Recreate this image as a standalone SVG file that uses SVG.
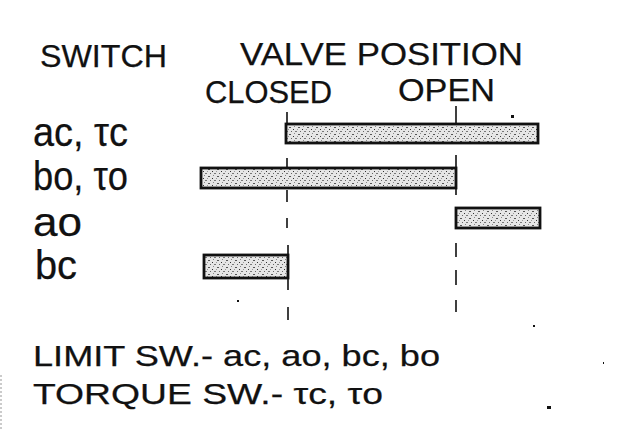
<svg xmlns="http://www.w3.org/2000/svg" width="639" height="431" viewBox="0 0 639 431">
<defs>
<pattern id="stip" width="9" height="7" patternUnits="userSpaceOnUse">
<rect width="9" height="7" fill="#e6e6e6"/>
<rect x="1" y="1" width="2" height="1" fill="#555"/>
<rect x="5" y="3" width="1" height="1" fill="#333"/>
<rect x="7" y="5" width="2" height="1" fill="#777"/>
<rect x="3" y="5" width="1" height="1" fill="#666"/>
<rect x="0" y="3" width="1" height="1" fill="#999"/>
<rect x="6" y="0" width="1" height="1" fill="#888"/>
</pattern>
<style>
.t{font-family:"Liberation Sans",Arial,sans-serif;fill:#111;stroke:#111;stroke-width:0.25;}
.h{font-size:31px;}
.l{font-size:40px;}
.f{font-size:30px;}
.bar{fill:url(#stip);stroke:#111;stroke-width:2.8;}
.dash{stroke:#111;stroke-width:1.6;fill:none;}
.dot{fill:#111;}
</style>
</defs>
<rect width="639" height="431" fill="#fff"/>

<g id="header">
<text class="t h" x="40" y="67" textLength="127" lengthAdjust="spacingAndGlyphs">SWITCH</text>
<text class="t h" x="240" y="65" textLength="283" lengthAdjust="spacingAndGlyphs">VALVE POSITION</text>
<text class="t h" x="205" y="103" textLength="127" lengthAdjust="spacingAndGlyphs">CLOSED</text>
<text class="t h" x="398" y="101" textLength="97" lengthAdjust="spacingAndGlyphs">OPEN</text>
</g>

<g id="connectors">
<path class="dash" d="M287 112V124 M287 158V168 M287 190V202 M287 218V228 M288 245V290 M288 307V320"/>
<path class="dash" d="M456 106V123 M456 155V195 M456 243V257 M456 270V285 M456 300V312"/>
<path stroke="#bbb" stroke-width="1.5" stroke-dasharray="2 2" d="M1 375V431"/>
</g>

<g id="row-ac-tc">
<text class="t l" x="33" y="146" textLength="95" lengthAdjust="spacingAndGlyphs">ac, τc</text>
<rect class="bar" x="286" y="124" width="252" height="19"/>
</g>
<g id="row-bo-to">
<text class="t l" x="33" y="190" textLength="95" lengthAdjust="spacingAndGlyphs">bo, τo</text>
<rect class="bar" x="201" y="168" width="255" height="20"/>
</g>
<g id="row-ao">
<text class="t l" x="33" y="236" textLength="49" lengthAdjust="spacingAndGlyphs">ao</text>
<rect class="bar" x="456" y="208" width="84" height="20"/>
</g>
<g id="row-bc">
<text class="t l" x="35" y="279" textLength="42" lengthAdjust="spacingAndGlyphs">bc</text>
<rect class="bar" x="204" y="255" width="84" height="23"/>
</g>

<g id="legend">
<text class="t f" x="33" y="366" textLength="407" lengthAdjust="spacingAndGlyphs">LIMIT SW.- ac, ao, bc, bo</text>
<text class="t f" x="33" y="404" textLength="350" lengthAdjust="spacingAndGlyphs">TORQUE SW.- τc, τo</text>
</g>

<g id="marks">
<rect class="dot" x="511" y="115" width="3" height="3"/>
<rect class="dot" x="237" y="300" width="2" height="2"/>
<rect class="dot" x="533" y="325" width="2" height="2"/>
<rect class="dot" x="603" y="362" width="1" height="2"/>
<rect class="dot" x="547" y="406" width="4" height="3"/>
</g>
</svg>
